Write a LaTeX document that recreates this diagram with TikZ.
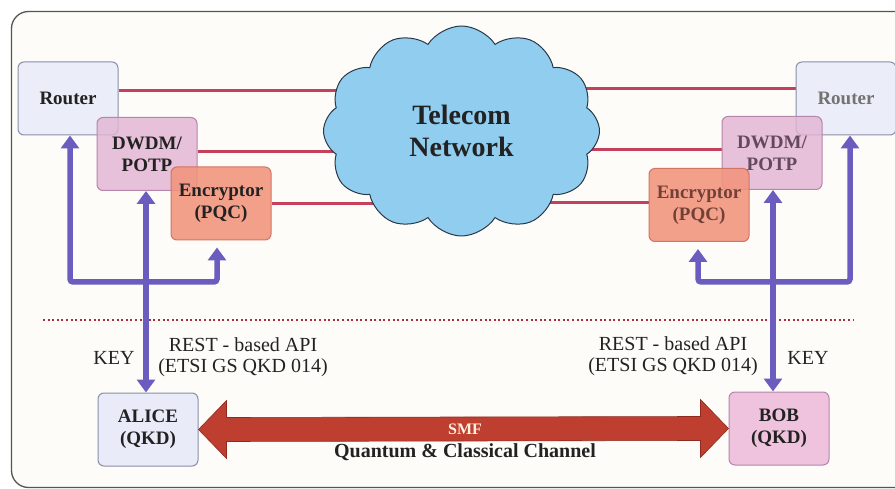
\documentclass[tikz,border=0pt]{standalone}
\usepackage{fontspec}
\setmainfont{Liberation Serif}
\usetikzlibrary{shapes.symbols,arrows.meta,calc}
\definecolor{bgcream}{HTML}{FDFCF8}
\definecolor{framecol}{HTML}{555555}
\definecolor{rtrfill}{HTML}{E9EBF8}
\definecolor{rtrdraw}{HTML}{8A8FA8}
\definecolor{dwfill}{HTML}{E3B5D3}
\definecolor{dwdraw}{HTML}{B585AC}
\definecolor{encfill}{HTML}{F2947D}
\definecolor{encdraw}{HTML}{D07464}
\definecolor{bobfill}{HTML}{EFC3DE}
\definecolor{purp}{HTML}{6B5DBF}
\definecolor{redln}{HTML}{C4405C}
\definecolor{dotred}{HTML}{A8303C}
\definecolor{smffill}{HTML}{BE3F30}
\definecolor{smfdraw}{HTML}{8E2B20}
\definecolor{cloudfill}{HTML}{90CDEF}
\definecolor{clouddraw}{HTML}{2A3848}
\definecolor{txtdark}{HTML}{222222}
\pgfdeclarelayer{bgl}
\pgfdeclarelayer{lines}
\pgfsetlayers{bgl,lines,main}
\tikzset{
  boxbase/.style={rounded corners=6pt, minimum width=100pt, minimum height=73pt,
    inner sep=0pt, align=center, line width=1pt, text=txtdark,
    font=\fontsize{19}{22}\selectfont\bfseries},
  rtrbox/.style={boxbase, fill=rtrfill, draw=rtrdraw, fill opacity=0.85, text opacity=1},
  dwbox/.style={boxbase, fill=dwfill, draw=dwdraw, fill opacity=0.82, text opacity=1},
  encbox/.style={boxbase, fill=encfill, draw=encdraw, fill opacity=0.88, text opacity=1},
  redline/.style={draw=redln, line width=3pt},
  parrow/.style={draw=purp, line width=5.5pt, rounded corners=3pt,
    arrows={Triangle[width=18pt,length=13pt]-Triangle[width=18pt,length=13pt]}},
  lbl/.style={font=\fontsize{20}{21}\selectfont, text=txtdark, align=center, inner sep=0pt},
}
\begin{document}
\begin{tikzpicture}[x=1pt,y=-1pt]
\useasboundingbox (0,0) rectangle (895,489);
\begin{pgfonlayer}{bgl}
  \fill[white] (0,0) rectangle (895,489);
  \draw[framecol, line width=1.3pt, fill=bgcream, rounded corners=17pt] (11.5,11.5) rectangle (915,487.5);
\end{pgfonlayer}

% cloud
\node[cloud, cloud puffs=12, cloud puff arc=115, aspect=1.2, minimum width=276pt, minimum height=210pt,
  fill=cloudfill, draw=clouddraw, line width=1pt, align=center, text=txtdark,
  font=\fontsize{28}{32}\selectfont\bfseries] (cloud) at (461.5,131) {Telecom\\Network};

% left boxes
\node[rtrbox] (rtrL) at (68,98.5) {Router};
\node[dwbox] (dwL) at (147,154) {DWDM/\\POTP};
\node[encbox] (encL) at (221,203.5) {Encryptor\\(PQC)};

% right boxes
\node[rtrbox, text=black!55] (rtrR) at (846,98.5) {Router};
\node[dwbox, text=black!45!dwdraw] (dwR) at (772,153) {DWDM/\\POTP};
\node[encbox, text=black!45!encdraw] (encR) at (699,205) {Encryptor\\(PQC)};

% QKD boxes
\node[boxbase, fill=rtrfill, draw=rtrdraw] (alice) at (148,429.5) {ALICE\\(QKD)};
\node[boxbase, fill=bobfill, draw=dwdraw] (bob) at (779,428.5) {BOB\\(QKD)};

% red lines to the cloud
\coordinate (l1) at ([yshift=7.5pt]rtrL.east);
\coordinate (l2) at ([yshift=2pt]dwL.east);
\coordinate (l3) at (encL.east);
\coordinate (r1) at ([yshift=9.5pt]rtrR.west);
\coordinate (r2) at ([yshift=3pt]dwR.west);
\coordinate (r3) at ([yshift=2pt]encR.west);
\begin{pgfonlayer}{lines}
  \draw[redline] (l1) -- (l1 -| cloud.center);
  \draw[redline] (l2) -- (l2 -| cloud.center);
  \draw[redline] (l3) -- (l3 -| cloud.center);
  \draw[redline] (r1) -- (r1 -| cloud.center);
  \draw[redline] (r2) -- (r2 -| cloud.center);
  \draw[redline] (r3) -- (r3 -| cloud.center);
\end{pgfonlayer}

% dotted separator
\coordinate (dl) at (43,320);
\coordinate (dr) at (853,320);
\draw[dotred, line width=2pt, dash pattern=on 2pt off 2.6pt] (dl) -- (dr);

% purple key arrows, left
\coordinate (jL) at (146,282);
\draw[parrow] (alice.north -| jL) -- (dwL.south -| jL);
\draw[parrow, shorten >=7pt] ([xshift=2pt]rtrL.south) |- (jL) -| ([xshift=-4pt]encL.south);

% purple key arrows, right
\coordinate (jR) at (773,282);
\draw[parrow] (bob.north -| jR) -- (dwR.south -| jR);
\draw[parrow, shorten <=7pt] ([xshift=-1pt]encR.south) |- (jR) -| ([xshift=4pt]rtrR.south);

% labels
\node[lbl] (keyL) at (114,358) {KEY};
\node[lbl] (restL) at (243,357) {REST - based API\\(ETSI GS QKD 014)};
\node[lbl] (restR) at (673,356) {REST - based API\\(ETSI GS QKD 014)};
\node[lbl] (keyR) at (808,358) {KEY};

% SMF double arrow
\draw[fill=smffill, draw=smfdraw, line width=0.6pt]
  (alice.east) -- ($(alice.east)+(28,-29)$) -- ($(alice.east)+(28,-12)$)
  -- ($(bob.west)+(-28,-12)$) -- ($(bob.west)+(-28,-29)$) -- (bob.west)
  -- ($(bob.west)+(-28,29)$) -- ($(bob.west)+(-28,12)$)
  -- ($(alice.east)+(28,12)$) -- ($(alice.east)+(28,29)$) -- cycle;
\node[font=\fontsize{16}{18}\selectfont\bfseries, text=white!88!orange, inner sep=0pt] (smf) at (465,429) {SMF};
\node[font=\fontsize{20}{22}\selectfont\bfseries, text=txtdark, inner sep=0pt, anchor=base] (qcc) at (465,457.5) {Quantum \& Classical Channel};
\end{tikzpicture}
\end{document}
